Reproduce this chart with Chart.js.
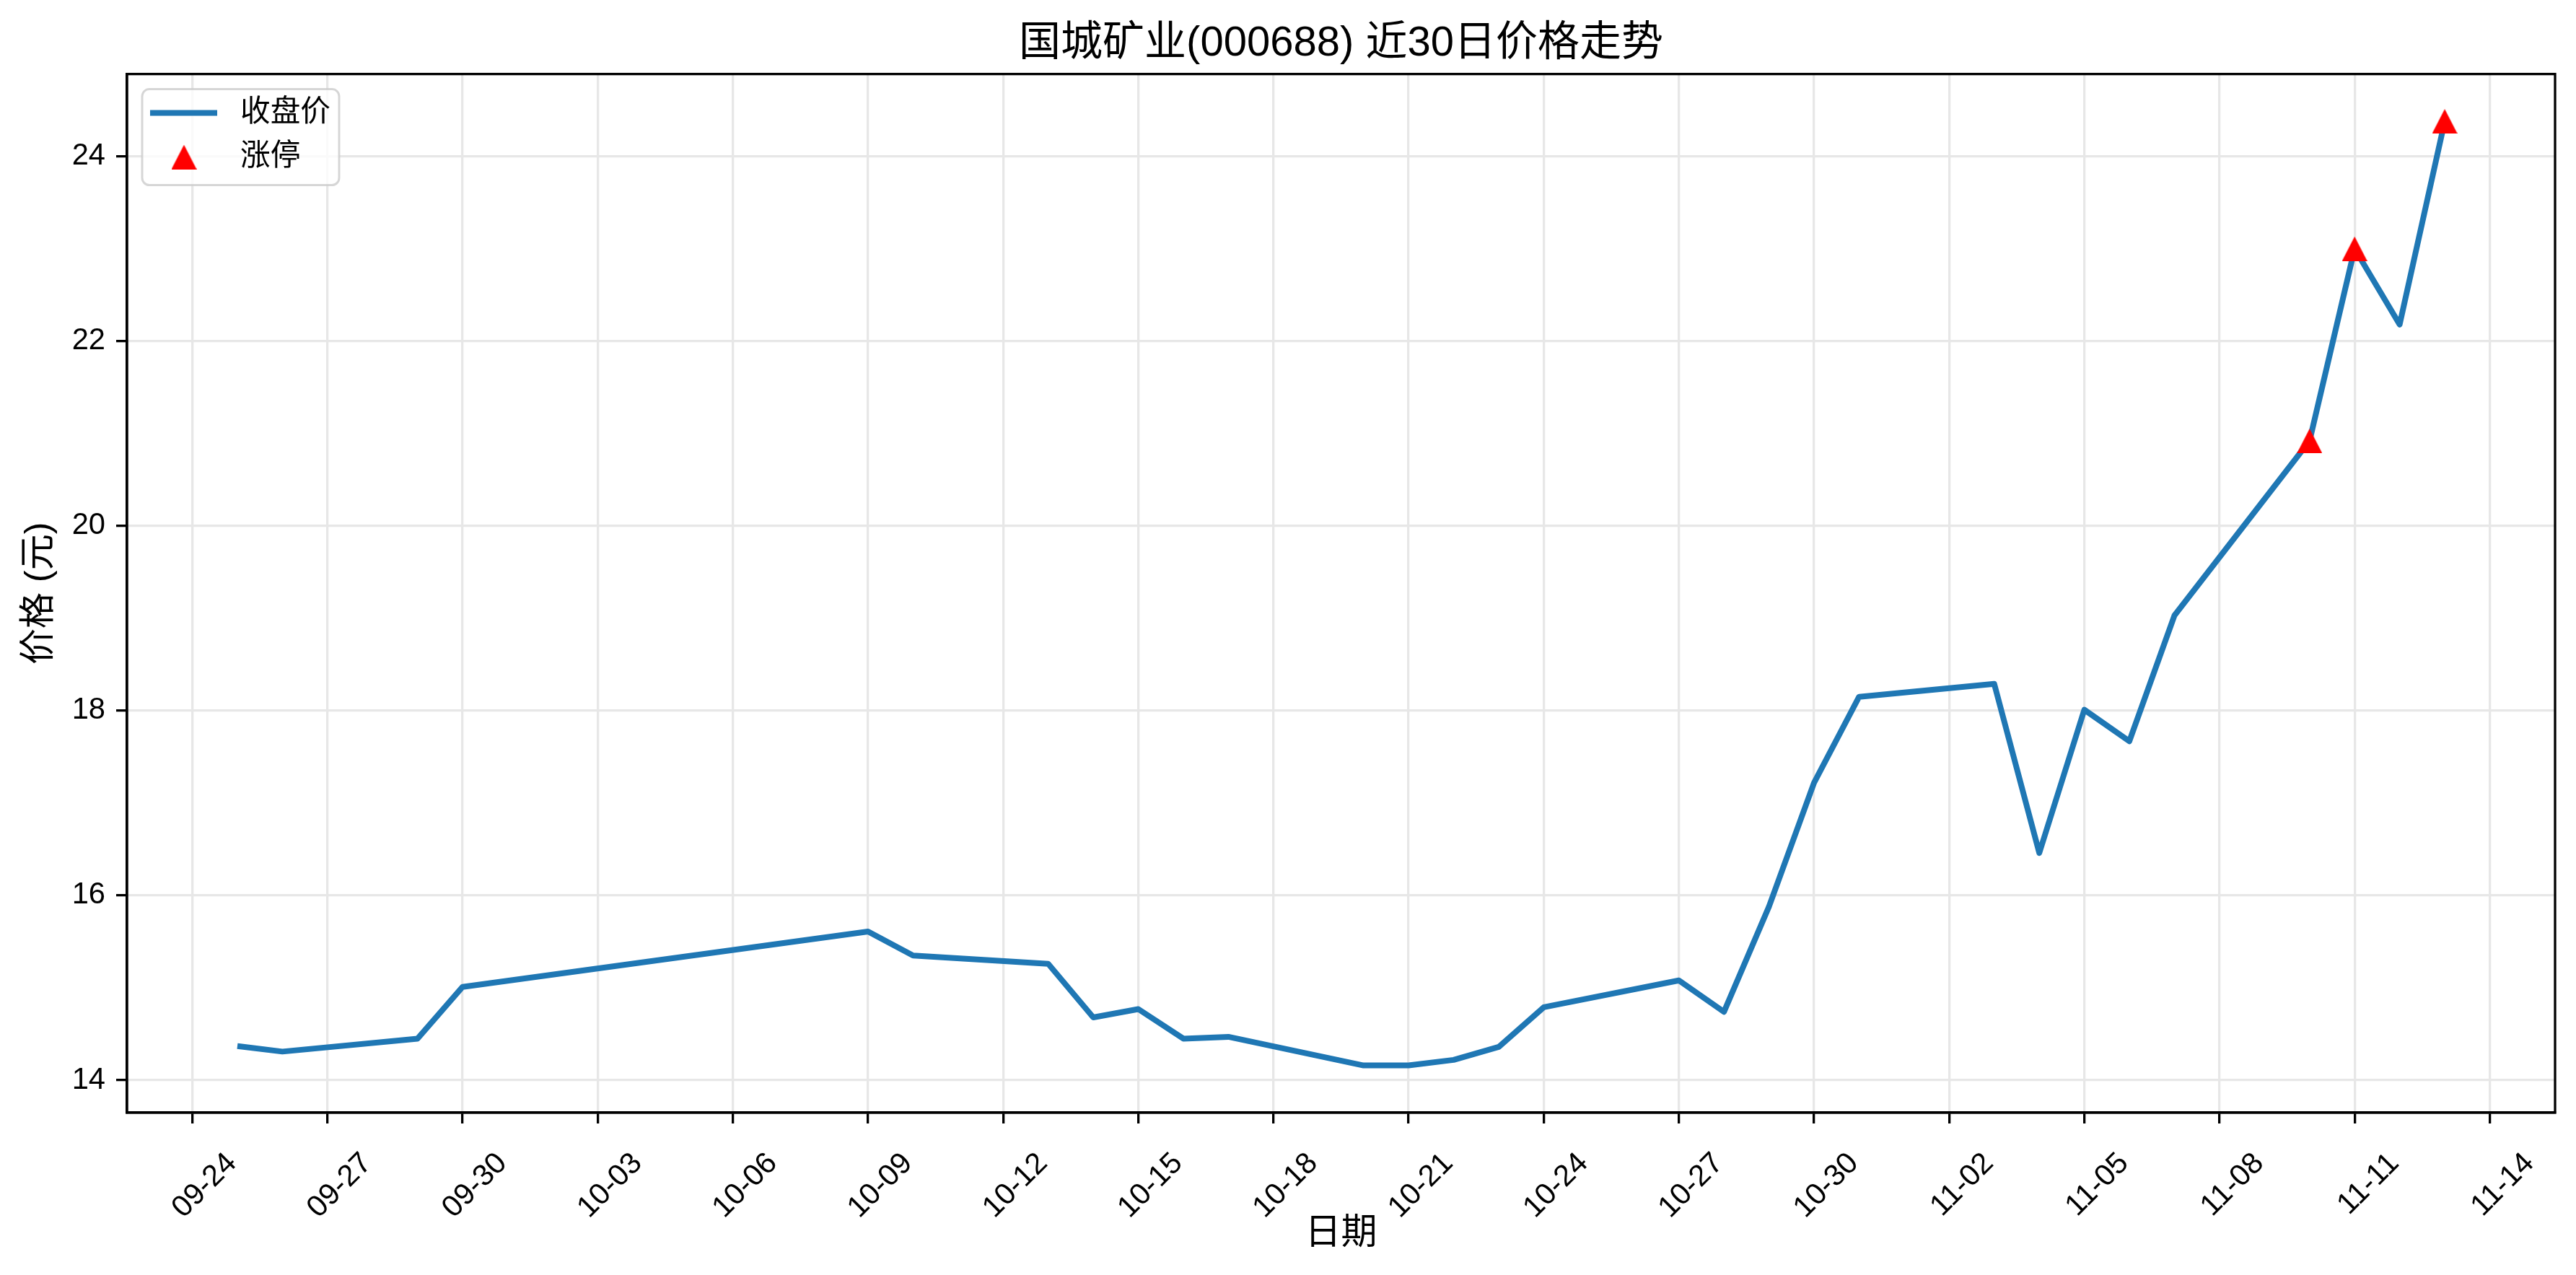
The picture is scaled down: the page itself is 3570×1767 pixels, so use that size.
<!DOCTYPE html>
<html>
<head>
<meta charset="utf-8">
<title>国城矿业(000688) 近30日价格走势</title>
<script src="https://cdn.jsdelivr.net/npm/chart.js@4.4.1/dist/chart.umd.min.js"></script>
<style>
    html, body { margin: 0; padding: 0; background: #ffffff; }
    #chartBox { width: 3570px; height: 1767px; }
</style>
</head>
<body>
<div id="chartBox"><canvas id="priceCanvas" width="3570" height="1767"></canvas></div>
<script>
'use strict';

// Data (year 2025 trading days)
const YEAR = 2025;
const tradeDates = ['09-25', '09-26', '09-29', '09-30', '10-09', '10-10', '10-13', '10-14', '10-15', '10-16',
                    '10-17', '10-20', '10-21', '10-22', '10-23', '10-24', '10-27', '10-28', '10-29', '10-30',
                    '10-31', '11-03', '11-04', '11-05', '11-06', '11-07', '11-10', '11-11', '11-12', '11-13'];
const closePrices = [14.37, 14.31, 14.45, 15.01, 15.61, 15.35, 15.26, 14.68, 14.77, 14.45,
                     14.47, 14.16, 14.16, 14.22, 14.36, 14.79, 15.08, 14.74, 15.88, 17.22,
                     18.15, 18.29, 16.46, 18.01, 17.67, 19.03, 20.92, 23.00, 22.18, 24.38];
const limitUpDates = ['11-10', '11-11', '11-13'];
const xTickLabels = ['09-24', '09-27', '09-30', '10-03', '10-06', '10-09', '10-12', '10-15', '10-18',
                     '10-21', '10-24', '10-27', '10-30', '11-02', '11-05', '11-08', '11-11', '11-14'];

const FONT = "'Liberation Sans', 'Noto Sans CJK SC', Arial, sans-serif";
const LINE_BLUE = '#1f77b4';

function dayNum(mmdd){
    const parts = mmdd.split('-').map(Number);
    return Date.UTC(YEAR, parts[0] - 1, parts[1]) / 86400000;
}

function dayLabel(value){
    const dt = new Date(Math.round(value) * 86400000);
    const mm = String(dt.getUTCMonth() + 1).padStart(2, '0');
    const dd = String(dt.getUTCDate()).padStart(2, '0');
    return mm + '-' + dd;
}

const closeSeries = tradeDates.map((d, i) => ({ x: dayNum(d), y: closePrices[i] }));
const limitUpSeries = limitUpDates.map(d => ({ x: dayNum(d), y: closePrices[tradeDates.indexOf(d)] }));

// matplotlib style 5% margins
const xs = closeSeries.map(p => p.x);
const ys = closePrices.concat(limitUpSeries.map(p => p.y));
const xSpan = Math.max(...xs) - Math.min(...xs);
const ySpan = Math.max(...ys) - Math.min(...ys);
const xMin = Math.min(...xs) - 0.05 * xSpan, xMax = Math.max(...xs) + 0.05 * xSpan;
const yMin = Math.min(...ys) - 0.05 * ySpan, yMax = Math.max(...ys) + 0.05 * ySpan;

// '^' marker like matplotlib (as wide as it is tall)
function makeTriangle(w, h, color){
    const c = document.createElement('canvas');
    c.width = w;
    c.height = h;
    const g = c.getContext('2d');
    g.fillStyle = color;
    g.beginPath();
    g.moveTo(w / 2, 0);
    g.lineTo(w, h);
    g.lineTo(0, h);
    g.closePath();
    g.fill();
    return c;
}
const triangleImg = makeTriangle(35, 34, '#ff0000');

// top/right spines plus the legend box in the upper left corner
const frameAndLegend = {
    id: 'frameAndLegend',
    afterDatasetsDraw(chart){
        const a = chart.chartArea;
        const g = chart.ctx;
        g.save();
        g.strokeStyle = '#000';
        g.lineWidth = 3.3;
        g.strokeRect(a.left, a.top, a.right - a.left, a.bottom - a.top);
        g.restore();
    },
    afterDraw(chart){
        const a = chart.chartArea;
        const g = chart.ctx;
        const bx = a.left + 21, by = a.top + 21, bw = 273, bh = 133, r = 10;
        g.save();
        g.beginPath();
        g.moveTo(bx + r, by);
        g.arcTo(bx + bw, by, bx + bw, by + bh, r);
        g.arcTo(bx + bw, by + bh, bx, by + bh, r);
        g.arcTo(bx, by + bh, bx, by, r);
        g.arcTo(bx, by, bx + bw, by, r);
        g.closePath();
        g.fillStyle = 'rgba(255,255,255,0.8)';
        g.fill();
        g.strokeStyle = 'rgba(204,204,204,0.8)';
        g.lineWidth = 3;
        g.stroke();

        const ds = chart.data.datasets;
        const handleX = bx + 58;
        const rowY = [by + 33, by + 94];

        g.strokeStyle = ds[0].borderColor;
        g.lineWidth = ds[0].borderWidth;
        g.lineCap = 'square';
        g.beginPath();
        g.moveTo(bx + 15, rowY[0]);
        g.lineTo(bx + 100, rowY[0]);
        g.stroke();

        g.drawImage(triangleImg, handleX - triangleImg.width / 2, rowY[1] - triangleImg.height / 2);

        g.fillStyle = '#000';
        g.font = '41.7px ' + FONT;
        g.textAlign = 'left';
        g.textBaseline = 'middle';
        g.fillText(ds[0].label, bx + 136, rowY[0]);
        g.fillText(ds[1].label, bx + 136, rowY[1]);
        g.restore();
    }
};

const ctx = document.getElementById('priceCanvas').getContext('2d');
Chart.defaults.font.family = FONT;
Chart.defaults.color = '#000';

window.priceChart = new Chart(ctx, {
    type: 'line',
    data: {
        datasets: [{
            label: '收盘价',
            data: closeSeries,
            order: 2,
            borderColor: LINE_BLUE,
            backgroundColor: LINE_BLUE,
            borderWidth: 8,
            borderJoinStyle: 'round',
            pointRadius: 0,
            tension: 0,
            fill: false
        }, {
            type: 'scatter',
            label: '涨停',
            data: limitUpSeries,
            order: 1, // markers sit on top of the line
            pointStyle: triangleImg,
            backgroundColor: '#ff0000',
            borderWidth: 0,
            pointRadius: 17
        }]
    },
    options: {
        responsive: false,
        animation: false,
        devicePixelRatio: 1,
        layout: { padding: { left: 0, right: 29, top: 0, bottom: 0 } },
        plugins: {
            legend: { display: false },
            tooltip: { enabled: false },
            title: {
                display: true,
                fullSize: false,
                text: '国城矿业(000688) 近30日价格走势',
                color: '#000',
                font: { size: 58, weight: 'normal' },
                padding: { top: 26, bottom: 7 }
            }
        },
        scales: {
            x: {
                type: 'linear',
                min: xMin,
                max: xMax,
                afterBuildTicks(axis){
                    axis.ticks = xTickLabels.map(l => ({ value: dayNum(l) }));
                },
                afterFit(axis){
                    axis.height = 225;
                },
                grid: { color: '#e7e7e7', lineWidth: 3.3, tickLength: 15, tickColor: '#000', tickWidth: 3.3 },
                border: { display: true, color: '#000', width: 3.3 },
                ticks: {
                    autoSkip: false,
                    minRotation: 45,
                    maxRotation: 45,
                    labelOffset: 55,
                    padding: 31,
                    font: { size: 41.7 },
                    callback: (value) => dayLabel(value)
                },
                title: { display: true, text: '日期', font: { size: 50 }, padding: { top: 0, bottom: 27 } }
            },
            y: {
                min: yMin,
                max: yMax,
                afterFit(axis){
                    axis.width = 176;
                },
                grid: { color: '#e7e7e7', lineWidth: 3.3, tickLength: 15, tickColor: '#000', tickWidth: 3.3 },
                border: { display: true, color: '#000', width: 3.3 },
                ticks: {
                    stepSize: 2,
                    includeBounds: false,
                    padding: 15,
                    font: { size: 41.7 }
                },
                title: { display: true, text: '价格 (元)', font: { size: 50 }, padding: { top: 25, bottom: 0 } }
            }
        }
    },
    plugins: [frameAndLegend]
});
</script>
</body>
</html>
